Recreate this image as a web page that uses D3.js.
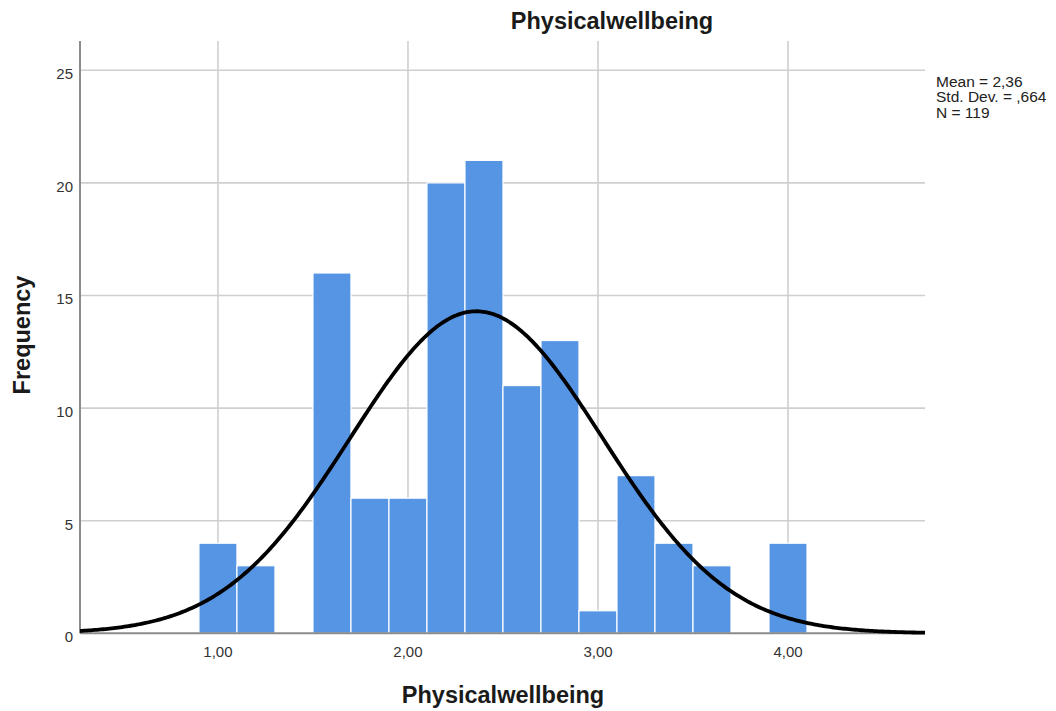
<!DOCTYPE html>
<html><head><meta charset="utf-8">
<script src="https://cdn.jsdelivr.net/npm/d3@7/dist/d3.min.js"></script>
<style>body{margin:0;background:#fff}svg{display:block}</style>
</head><body>
<svg id="c" width="1056" height="711"></svg>
<script>
const binStarts = [0.9,1.1,1.3,1.5,1.7,1.9,2.1,2.3,2.5,2.7,2.9,3.1,3.3,3.5,3.7,3.9];
const binCounts = [4,3,0,16,6,6,20,21,11,13,1,7,4,3,0,4];
const binWidth = 0.2;
const xTicks = [1,2,3,4];
const xTickLabels = ["1,00","2,00","3,00","4,00"];
const yTicks = [0,5,10,15,20,25];
const stats = ["Mean = 2,36","Std. Dev. = ,664","N = 119"];
const mean = 2.36, sd = 0.664, n = 119;

const svg = d3.select("#c");
const L = 80, R = 925, T = 41, B = 633.3;
const x = d3.scaleLinear().domain([0.274, 4.721]).range([L, R]);
const y = d3.scaleLinear().domain([0, 26.3]).range([B, T]);
const font = "'Liberation Sans', Arial, sans-serif";

// gridlines
svg.append("g").selectAll("line").data(yTicks.filter(d=>d>0)).join("line")
  .attr("x1", L).attr("x2", R).attr("y1", d=>y(d)).attr("y2", d=>y(d))
  .attr("stroke", "#cfcfcf").attr("stroke-width", 1.6);
svg.append("g").selectAll("line").data(xTicks).join("line")
  .attr("x1", d=>x(d)).attr("x2", d=>x(d)).attr("y1", T).attr("y2", B)
  .attr("stroke", "#cfcfcf").attr("stroke-width", 1.6);

// bars
svg.append("g").selectAll("rect").data(binStarts.map((s,i)=>({s, c: binCounts[i]})).filter(d=>d.c>0)).join("rect")
  .attr("x", d=>x(d.s)).attr("width", d=>x(d.s+binWidth)-x(d.s))
  .attr("y", d=>y(d.c)).attr("height", d=>y(0)-y(d.c))
  .attr("fill", "#5595e3").attr("stroke", "#ffffff").attr("stroke-width", 1.2);

// axes lines
svg.append("line").attr("x1", L).attr("x2", L).attr("y1", T).attr("y2", B)
  .attr("stroke", "#8c8c8c").attr("stroke-width", 2);
svg.append("line").attr("x1", L).attr("x2", R).attr("y1", B).attr("y2", B)
  .attr("stroke", "#8c8c8c").attr("stroke-width", 2);

// normal curve
const pts = d3.range(0, 401).map(i => {
  const v = 0.274 + (4.721-0.274)*i/400;
  const f = n*binWidth/(sd*Math.sqrt(2*Math.PI))*Math.exp(-0.5*((v-mean)/sd)**2);
  return [v, f];
});
svg.append("path").datum(pts)
  .attr("d", d3.line().x(d=>x(d[0])).y(d=>y(d[1])))
  .attr("fill", "none").attr("stroke", "#000").attr("stroke-width", 3.8);

// tick labels
svg.append("g").selectAll("text").data(yTicks).join("text")
  .attr("x", 73).attr("y", d=>y(d)+9).attr("text-anchor", "end")
  .attr("font-family", font).attr("font-size", 15).attr("fill", "#333")
  .text(d=>d);
svg.append("g").selectAll("text").data(xTicks).join("text")
  .attr("x", d=>x(d)).attr("y", 657).attr("text-anchor", "middle")
  .attr("font-family", font).attr("font-size", 15).attr("fill", "#333")
  .text((d,i)=>xTickLabels[i]);

// titles
svg.append("text").attr("x", 612).attr("y", 29).attr("text-anchor", "middle")
  .attr("font-family", font).attr("font-size", 23.5).attr("font-weight", "bold").attr("fill", "#1a1a1a")
  .text("Physicalwellbeing");
svg.append("text").attr("x", 503).attr("y", 703).attr("text-anchor", "middle")
  .attr("font-family", font).attr("font-size", 23.5).attr("font-weight", "bold").attr("fill", "#1a1a1a")
  .text("Physicalwellbeing");
svg.append("text").attr("transform", "translate(30,335) rotate(-90)").attr("text-anchor", "middle")
  .attr("font-family", font).attr("font-size", 23.5).attr("font-weight", "bold").attr("fill", "#1a1a1a")
  .text("Frequency");

// stats
svg.append("g").selectAll("text").data(stats).join("text")
  .attr("x", 936).attr("y", (d,i)=>86.5 + i*15.5)
  .attr("font-family", font).attr("font-size", 15.5).attr("fill", "#222")
  .text(d=>d);
</script>
</body></html>
